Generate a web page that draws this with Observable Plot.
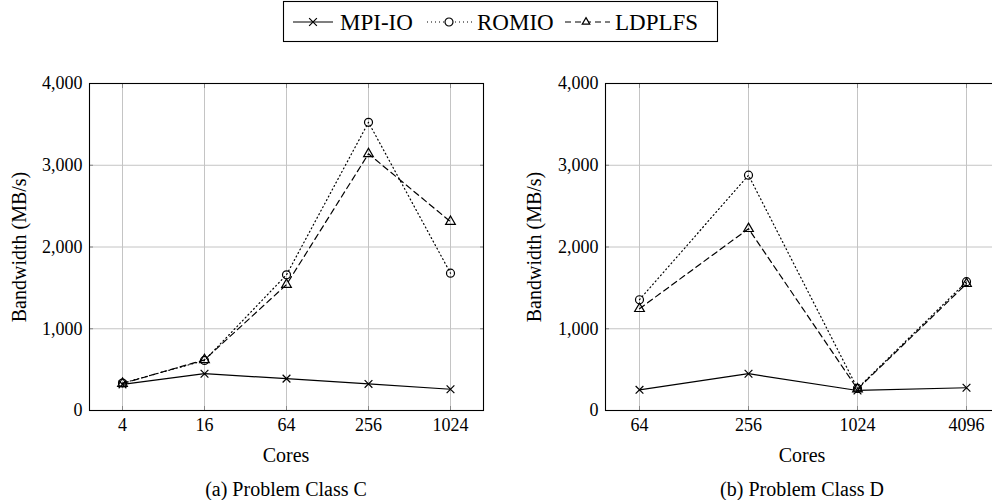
<!DOCTYPE html>
<html><head><meta charset="utf-8">
<script src="https://cdn.jsdelivr.net/npm/d3@7"></script>
<script src="https://cdn.jsdelivr.net/npm/@observablehq/plot@0.6"></script>
<style>
html, body{margin:0;background:#fff;}
*, svg, svg text, div{font-family:"Liberation Serif" !important;}
#root{position:relative;width:992px;height:500px;overflow:hidden;color:#000;}
</style></head><body><div id="root"></div>
<script>
// ---- data ----
const series = ["MPI-IO", "ROMIO", "LDPLFS"];
const coresC = [4, 16, 64, 256, 1024];
const mpiioC = [320, 450, 390, 325, 260];
const romioC = [335, 612, 1660, 3525, 1680];
const ldplfsC = [330, 620, 1540, 3140, 2310];
const coresD = [64, 256, 1024, 4096];
const mpiioD = [253, 450, 245, 278];
const romioD = [1355, 2878, 270, 1576];
const ldplfsD = [1245, 2224, 262, 1551];
const yTicks = [0, 1000, 2000, 3000, 4000];
const yLabel = "Bandwidth (MB/s)";
const xLabel = "Cores";
const captions = ["(a) Problem Class C", "(b) Problem Class D"];

// ---- styles ----
const FONT = "Liberation Serif";
const dashes = [null, "1,3", "6,4"];
const symbols = ["times", "circle", "triangle"];
const radii = [3.6, 4, 3.6];

const root = document.getElementById("root");

function panel(cores, vals, cfg) {
  const xDomain = cores.map(String);
  const marks = [
    Plot.gridX(xDomain, {stroke: "#c4c4c4", strokeOpacity: 1}),
    Plot.gridY(yTicks, {stroke: "#c4c4c4", strokeOpacity: 1}),
    Plot.axisX(xDomain, {anchor: "bottom", tickSize: -4, tickPadding: 12, stroke: "#888", label: null}),
    Plot.axisX(xDomain, {anchor: "top", tickSize: -4, tickFormat: () => "", stroke: "#888", label: null}),
    Plot.axisY(yTicks, {anchor: "left", tickSize: -4, tickPadding: 11, stroke: "#888", tickFormat: d3.format(","), label: null}),
    Plot.axisY(yTicks, {anchor: "right", tickSize: -4, tickFormat: () => "", stroke: "#888", label: null}),
    Plot.frame({stroke: "black", strokeWidth: 1.1})
  ];
  series.forEach((s, i) => {
    const d = cores.map((c, j) => ({series: s, cores: String(c), bw: vals[i][j]}));
    marks.push(Plot.line(d, {x: "cores", y: "bw", stroke: "black", strokeWidth: 1.2, strokeDasharray: dashes[i]}));
  });
  series.forEach((s, i) => {
    const d = cores.map((c, j) => ({series: s, cores: String(c), bw: vals[i][j]}));
    marks.push(Plot.dot(d, {x: "cores", y: "bw", symbol: symbols[i], r: radii[i], stroke: "black", fill: "none", strokeWidth: 1.2}));
  });
  const svg = Plot.plot({
    width: cfg.width, height: 400,
    marginLeft: cfg.marginLeft, marginRight: cfg.marginRight, marginTop: 23, marginBottom: 50,
    style: {fontFamily: FONT, fontSize: "18px", color: "black", background: "transparent", overflow: "visible"},
    x: {type: "point", domain: xDomain, padding: cfg.padding, label: null},
    y: {domain: [0, 4000], label: null},
    marks
  });
  svg.setAttribute("font-family", FONT);
  svg.style.position = "absolute";
  svg.style.left = cfg.left + "px";
  svg.style.top = "60px";
  root.appendChild(svg);
}

panel(coresC, [mpiioC, romioC, ldplfsC], {left: 0, width: 496, marginLeft: 89, marginRight: 13, padding: 0.4});
panel(coresD, [mpiioD, romioD, ldplfsD], {left: 496, width: 503, marginLeft: 109, marginRight: 0, padding: 0.3});

function label(text, x, y, size, rot) {
  const d = document.createElement("div");
  d.setAttribute("style", `position:absolute;white-space:nowrap;left:${x}px;top:${y}px;font-size:${size}px;line-height:1;transform:translate(-50%,-50%)${rot ? " rotate(-90deg)" : ""}`);
  d.textContent = text;
  root.appendChild(d);
}
label(yLabel, 19, 247, 20, true);
label(yLabel, 534, 247, 20, true);
label(xLabel, 286, 455, 20);
label(xLabel, 802, 455, 20);
label(captions[0], 286, 489, 20);
label(captions[1], 802, 489, 20);

// ---- legend ----
const lg = d3.create("svg").attr("width", 992).attr("height", 50).attr("font-family", FONT)
  .style("position", "absolute").style("left", "0px").style("top", "0px");
lg.append("rect").attr("x", 283.5).attr("y", 1.5).attr("width", 434).attr("height", 40)
  .attr("fill", "white").attr("stroke", "black").attr("stroke-width", 1.1);
const items = [
  {x1: 293, x2: 333, sx: 313, tx: 340},
  {x1: 427, x2: 473, sx: 449, tx: 477},
  {x1: 565, x2: 610, sx: 586, tx: 615}
];
const d3sym = {times: d3.symbolTimes, circle: d3.symbolCircle, triangle: d3.symbolTriangle2};
series.forEach((s, i) => {
  const it = items[i];
  lg.append("line").attr("x1", it.x1).attr("x2", it.x2).attr("y1", 22).attr("y2", 22)
    .attr("stroke", "black").attr("stroke-width", 1.2).attr("stroke-dasharray", dashes[i]);
  lg.append("path").attr("transform", `translate(${it.sx},22)`)
    .attr("d", d3.symbol(d3sym[symbols[i]], Math.PI * radii[i] * radii[i])())
    .attr("fill", "white").attr("stroke", "black").attr("stroke-width", 1.2);
  lg.append("text").attr("x", it.tx).attr("y", 29.5).text(s).attr("font-size", 23);
});
root.appendChild(lg.node());
</script></body></html>
